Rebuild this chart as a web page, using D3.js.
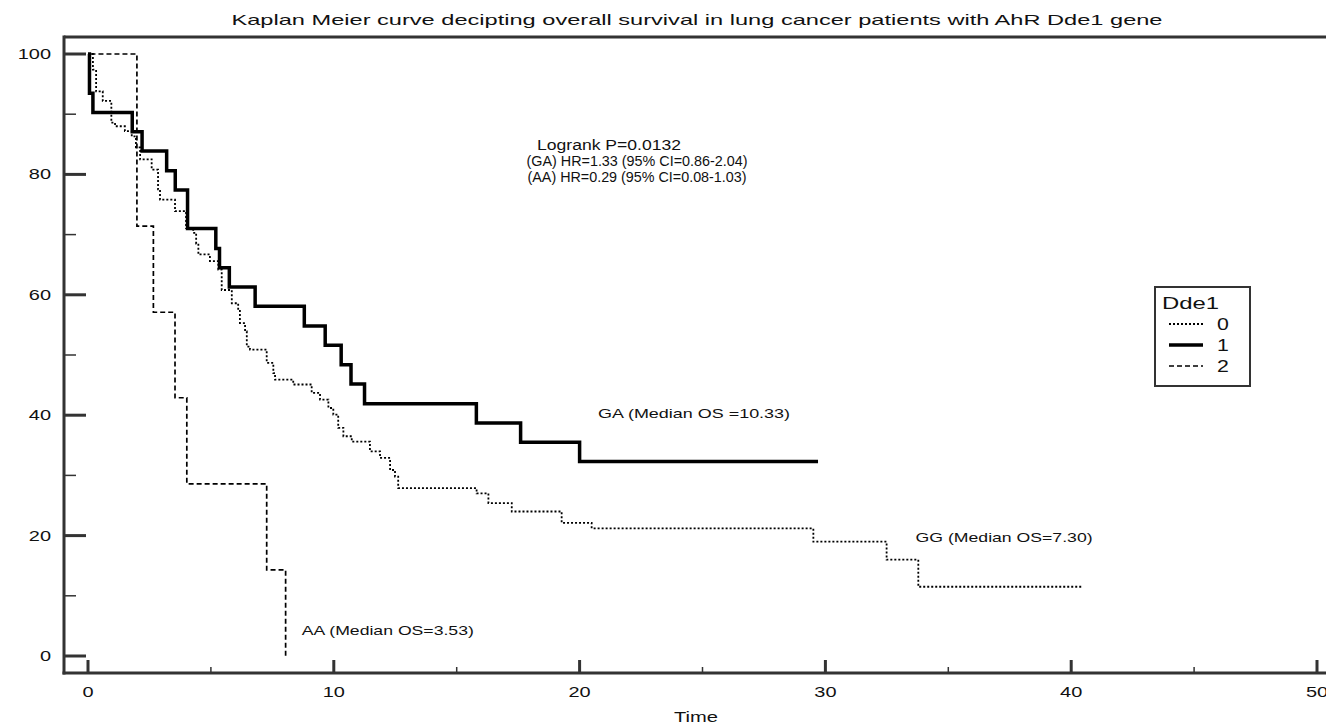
<!DOCTYPE html>
<html>
<head>
<meta charset="utf-8">
<script src="https://cdn.jsdelivr.net/npm/d3@7"></script>
<style>
  body { margin: 0; background: #fff; }
  svg { display: block; font-family: "Liberation Sans", Arial, sans-serif; }
</style>
</head>
<body>
<svg id="chart" width="1326" height="727"></svg>
<script>
// survival curves, [time, survival after the drop]
var gg = [
  [0, 100], [0.2, 97.4], [0.33, 93.8], [0.6, 92.2], [0.95, 88.6], [1.1, 88.0],
  [1.5, 87.2], [1.78, 86.3], [1.95, 84.5], [2.12, 82.5], [2.59, 80.8], [2.85, 77.5],
  [2.93, 75.8], [3.54, 73.9], [3.99, 71.1], [4.28, 70.3], [4.4, 68.5], [4.49, 66.7],
  [4.96, 65.6], [5.3, 64.2], [5.44, 60.8], [5.85, 58.6], [6.11, 57.5], [6.18, 55.3],
  [6.39, 53.9], [6.46, 51.4], [6.59, 50.9], [7.27, 48.7], [7.54, 47.0], [7.61, 45.9],
  [8.35, 45.1], [9.1, 43.7], [9.44, 42.6], [9.78, 41.2], [9.98, 40.1], [10.18, 37.9],
  [10.39, 36.5], [10.73, 35.6], [11.47, 34.0], [11.88, 32.9], [12.29, 30.9], [12.49, 29.8],
  [12.62, 27.9], [15.81, 27.0], [16.29, 25.4], [17.24, 24.0], [19.27, 22.1], [20.49, 21.2],
  [29.51, 19.0], [32.49, 16.0], [33.78, 11.5], [40.43, 11.5]
];
var ga = [
  [0, 100], [0.06, 93.5], [0.2, 90.3], [1.8, 87.1], [2.2, 83.9], [3.2, 80.6],
  [3.55, 77.4], [4.05, 71.0], [5.2, 67.7], [5.35, 64.5], [5.75, 61.3], [6.8, 58.1],
  [8.8, 54.8], [9.65, 51.6], [10.3, 48.4], [10.7, 45.2], [11.25, 41.9], [15.8, 38.7],
  [17.6, 35.5], [20.0, 32.3], [29.7, 32.3]
];
var aa = [
  [0.1, 100], [1.99, 71.4], [2.66, 57.1], [3.54, 42.9], [4.02, 28.6], [7.27, 14.3], [8.04, 0]
];
var xTicks = [0, 10, 20, 30, 40, 50];
var xMinor = [5, 15, 25, 35, 45];
var yTicks = [0, 20, 40, 60, 80, 100];
var yMinor = [10, 30, 50, 70, 90];
var legendLabels = ["0", "1", "2"];
var titleText = "Kaplan Meier curve decipting overall survival in lung cancer patients with AhR Dde1 gene";
var statLines = ["Logrank P=0.0132", "(GA) HR=1.33 (95% CI=0.86-2.04)", "(AA) HR=0.29 (95% CI=0.08-1.03)"];
var medianNotes = [
  { text: "GA (Median OS =10.33)", t: 20.75, s: 39.5 },
  { text: "GG (Median OS=7.30)", t: 33.67, s: 18.9 },
  { text: "AA (Median OS=3.53)", t: 8.7, s: 3.5 }
];

var svg = d3.select("#chart");
var axisColor = "#333";
var x = d3.scaleLinear().domain([0, 50]).range([88, 1317]);
var y = d3.scaleLinear().domain([0, 100]).range([656, 54]);
var axisX = 64, axisY = 673, topY = 37;
var stretch = 1.33; // the original text is drawn wider than the font

// widen a text to a given length, or by the stretch factor
function widen(sel, len) {
  sel.each(function() {
    var w = len || this.getComputedTextLength() * stretch;
    d3.select(this).attr("textLength", w).attr("lengthAdjust", "spacingAndGlyphs");
  });
  return sel;
} // widen

// frame lines
svg.append("line").attr("x1", axisX).attr("x2", 1326).attr("y1", topY).attr("y2", topY)
  .attr("stroke", axisColor).attr("stroke-width", 3);
svg.append("line").attr("x1", axisX).attr("x2", axisX).attr("y1", topY - 1.5).attr("y2", axisY + 1.5)
  .attr("stroke", axisColor).attr("stroke-width", 3);
svg.append("line").attr("x1", axisX - 1.5).attr("x2", 1326).attr("y1", axisY).attr("y2", axisY)
  .attr("stroke", axisColor).attr("stroke-width", 3);

// y ticks
svg.selectAll(".ymaj").data(yTicks).enter().append("line")
  .attr("x1", axisX).attr("x2", 86).attr("y1", d => y(d)).attr("y2", d => y(d))
  .attr("stroke", axisColor).attr("stroke-width", 3);
svg.selectAll(".ymin").data(yMinor).enter().append("line")
  .attr("x1", axisX).attr("x2", 76).attr("y1", d => y(d)).attr("y2", d => y(d))
  .attr("stroke", axisColor).attr("stroke-width", 1.5);
widen(svg.selectAll(".ylab").data(yTicks).enter().append("text")
  .attr("x", 51).attr("y", d => y(d) + 5).attr("text-anchor", "end")
  .attr("font-size", 15).attr("fill", "#111").text(d => d));

// x ticks
svg.selectAll(".xmaj").data(xTicks).enter().append("line")
  .attr("x1", d => x(d)).attr("x2", d => x(d)).attr("y1", axisY).attr("y2", 660)
  .attr("stroke", axisColor).attr("stroke-width", 3);
svg.selectAll(".xmin").data(xMinor).enter().append("line")
  .attr("x1", d => x(d)).attr("x2", d => x(d)).attr("y1", axisY).attr("y2", 667)
  .attr("stroke", axisColor).attr("stroke-width", 1.5);
widen(svg.selectAll(".xlab").data(xTicks).enter().append("text")
  .attr("x", d => x(d)).attr("y", 697).attr("text-anchor", "middle")
  .attr("font-size", 15).attr("fill", "#111").text(d => d));

widen(svg.append("text").attr("x", 696).attr("y", 722).attr("text-anchor", "middle")
  .attr("font-size", 15).attr("fill", "#111").text("Time"), 44);
widen(svg.append("text").attr("x", 697).attr("y", 25).attr("text-anchor", "middle")
  .attr("font-size", 15).attr("fill", "#111").text(titleText), 931);

// curves
var line = d3.line().x(d => x(d[0])).y(d => y(d[1])).curve(d3.curveStepAfter);
var styles = [
  { data: gg, width: 1.8, dash: "2,2" },
  { data: ga, width: 3.5, dash: null },
  { data: aa, width: 1.7, dash: "5,3" }
];
styles.forEach(function(st) {
  svg.append("path").attr("d", line(st.data)).attr("fill", "none")
    .attr("stroke", "#000").attr("stroke-width", st.width)
    .attr("stroke-dasharray", st.dash);
});

// annotations
var statX = [609, 637, 637];
var statWidths = [144, 221, 219];
svg.selectAll(".stat").data(statLines).enter().append("text")
  .attr("x", (d, i) => statX[i]).attr("y", (d, i) => 150 + i * 16).attr("text-anchor", "middle")
  .attr("font-size", 14).attr("fill", "#111").text(d => d)
  .each(function(d, i) { widen(d3.select(this), statWidths[i]); });
var medWidths = [192, 177, 172];
svg.selectAll(".med").data(medianNotes).enter().append("text")
  .attr("x", d => x(d.t)).attr("y", d => y(d.s)).attr("font-size", 13.5)
  .attr("fill", "#111").text(d => d.text)
  .each(function(d, i) { widen(d3.select(this), medWidths[i]); });

// legend
var lg = svg.append("g");
lg.append("rect").attr("x", 1155).attr("y", 287).attr("width", 95).attr("height", 99)
  .attr("fill", "#fff").attr("stroke", axisColor).attr("stroke-width", 2);
widen(lg.append("text").attr("x", 1162).attr("y", 309).attr("font-size", 16)
  .attr("fill", "#111").text("Dde1"), 57);
legendLabels.forEach(function(lab, i) {
  var ly = 324 + i * 21;
  lg.append("line").attr("x1", 1169).attr("x2", 1203).attr("y1", ly).attr("y2", ly)
    .attr("stroke", "#000").attr("stroke-width", styles[i].width)
    .attr("stroke-dasharray", styles[i].dash);
  widen(lg.append("text").attr("x", 1217).attr("y", ly + 6).attr("font-size", 16)
    .attr("fill", "#111").text(lab));
});
</script>
</body>
</html>
